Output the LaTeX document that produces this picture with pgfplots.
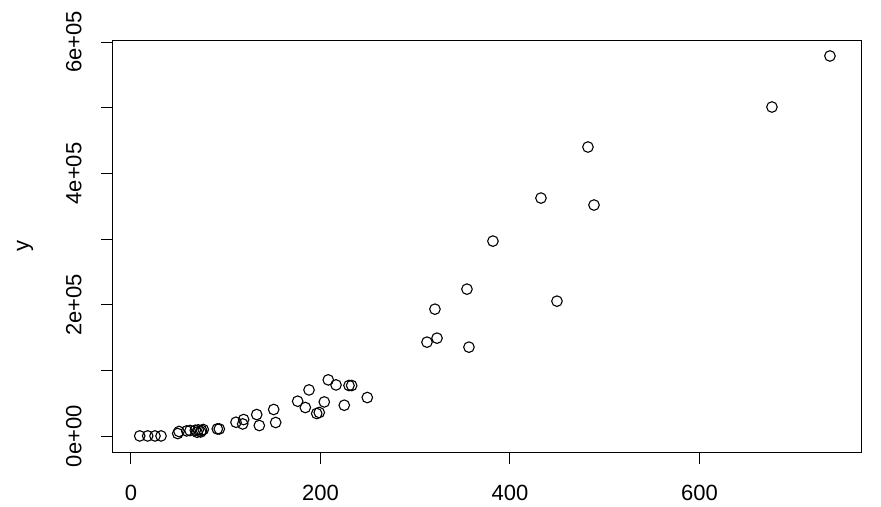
\documentclass[border=0pt]{standalone}
\usepackage{fontspec}
\setmainfont{Liberation Sans}
\usepackage{pgfplots}
\pgfplotsset{compat=1.18}

\pgfplotstableread{
x y
9.2 457
17.6 457
25.3 457
31.7 457
49.3 4100
50.7 7200
58.8 8100
62.3 8700
67.9 9100
69.7 6100
71.0 9600
73.6 6500
76.3 10200
74.5 8900
91.1 11100
93.2 11100
110.8 21300
117.9 18700
118.9 25400
132.7 33000
135.4 16300
150.6 40700
152.7 20900
175.9 53300
184.0 43700
187.9 70500
196.0 34600
198.7 36100
204.0 52200
208.2 85800
216.4 78100
225.1 47200
230.1 77200
232.9 77200
249.4 58900
312.4 143200
320.8 193400
323.0 149300
354.6 223900
356.7 135600
382.0 297000
432.7 362500
449.6 205600
482.3 440200
488.7 351900
676.5 501100
737.7 578800
}\pts

\begin{document}
\begin{tikzpicture}
\useasboundingbox (-113bp,-55bp) rectangle (768bp,452bp);
\begin{axis}[
  at={(0,0)}, anchor=south west,
  scale only axis,
  width=748bp, height=411bp,
  xmin=-19, xmax=770.5,
  ymin=-24000, ymax=601600,
  axis line style={line width=1bp},
  tick align=outside,
  major tick length=12bp,
  tick style={line width=1bp, black},
  xtick pos=left, ytick pos=left,
  xtick={0,200,400,600},
  xticklabels={0,200,400,600},
  ytick={0,100000,200000,300000,400000,500000,600000},
  yticklabels={0e+00,,2e+05,,4e+05,,6e+05},
  scaled y ticks=false,
  ticklabel style={font=\fontsize{22bp}{26bp}\selectfont},
  xticklabel style={yshift=-18bp},
  yticklabel style={rotate=90, anchor=south, yshift=16bp},
  ylabel={y},
  ylabel style={font=\fontsize{22bp}{26bp}\selectfont, at={(axis description cs:-0.1176,0.5)}, anchor=center},
  clip=false,
]
\addplot[only marks, mark=o, mark size=5.3bp, mark options={line width=1.1bp, black}] table {\pts};
\end{axis}
\end{tikzpicture}
\end{document}
